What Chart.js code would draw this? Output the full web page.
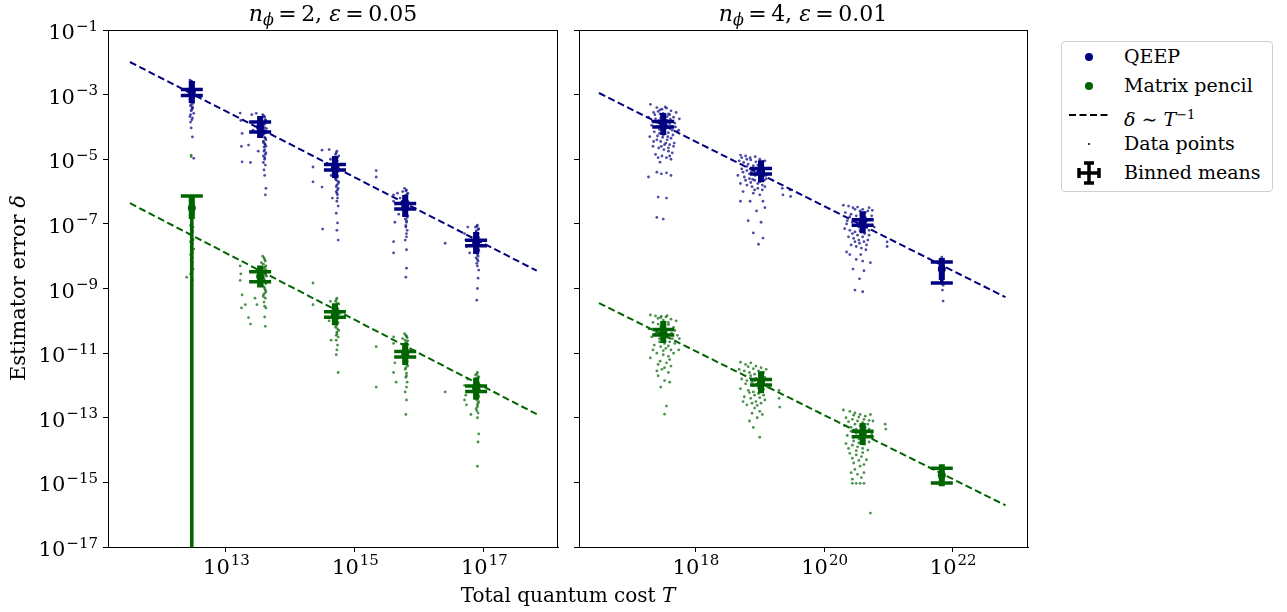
<!DOCTYPE html>
<html>
<head>
<meta charset="utf-8">
<script src="https://cdn.jsdelivr.net/npm/chart.js@4.4.1/dist/chart.umd.min.js"></script>
<style>
  body { margin: 0; background: #fff; width: 1287px; height: 612px; overflow: hidden; position: relative;
         font-family: 'DejaVu Serif', serif; color: #000; }
  .panel { position: absolute; top: 0; height: 612px; }
  .txt { position: absolute; white-space: nowrap; font-size: 22px; line-height: 30px; }
  #legend { position: absolute; left: 1061px; top: 41px; width: 210px; height: 149px;
            border: 1px solid #d0d0d0; border-radius: 4px; background: #fff; }
  .lrow { position: absolute; left: 0; height: 29px; width: 210px; font-size: 19px; line-height: 29px; }
  .lrow svg { position: absolute; left: 0; top: 0; }
  .lrow span.t { position: absolute; left: 62px; }
</style>
</head>
<body>
<div class="panel" style="left:0;width:570px"><canvas id="left"></canvas></div>
<div class="panel" style="left:570px;width:470px"><canvas id="right"></canvas></div>

<div class="txt" style="left:223px;top:-1px;width:220px;text-align:center"><i>n</i><sub style="font-size:16px;vertical-align:-4px"><i>ϕ</i></sub>&thinsp;=&thinsp;2, <i>ε</i>&thinsp;=&thinsp;0.05</div>
<div class="txt" style="left:693px;top:-1px;width:220px;text-align:center"><i>n</i><sub style="font-size:16px;vertical-align:-4px"><i>ϕ</i></sub>&thinsp;=&thinsp;4, <i>ε</i>&thinsp;=&thinsp;0.01</div>
<div class="txt" style="font-size:20px;left:418px;top:580px;width:300px;text-align:center">Total quantum cost <i>T</i></div>
<div class="txt" style="font-size:21px;left:-132px;top:273px;width:300px;text-align:center;transform:rotate(-90deg)">Estimator error <i>δ</i></div>

<div id="legend">
  <div class="lrow" style="top:0px"><svg width="60" height="29"><circle cx="27" cy="15" r="4" fill="#000080"/></svg><span class="t">QEEP</span></div>
  <div class="lrow" style="top:29px"><svg width="60" height="29"><circle cx="27" cy="15" r="4" fill="#006400"/></svg><span class="t">Matrix pencil</span></div>
  <div class="lrow" style="top:58px"><svg width="60" height="29"><line x1="7" y1="15" x2="47" y2="15" stroke="#000" stroke-width="2" stroke-dasharray="7,3.5"/></svg><span class="t"><i>δ</i> ∼ <i>T</i><sup style="font-size:13px">−1</sup></span></div>
  <div class="lrow" style="top:87px"><svg width="60" height="29"><circle cx="27" cy="15" r="1" fill="#000"/></svg><span class="t">Data points</span></div>
  <div class="lrow" style="top:116px"><svg width="60" height="29"><g stroke="#000" stroke-width="3.5"><line x1="27" y1="4" x2="27" y2="26"/><line x1="16" y1="15" x2="38" y2="15"/><line x1="22" y1="5" x2="32" y2="5"/><line x1="22" y1="25" x2="32" y2="25"/><line x1="17" y1="10" x2="17" y2="20"/><line x1="37" y1="10" x2="37" y2="20"/></g></svg><span class="t">Binned means</span></div>
</div>

<script>
// all values are log10: x = log10(T), y = log10(delta)
const yRange = [-17, -1];
const yTicks = [-17, -15, -13, -11, -9, -7, -5, -3, -1];
const yTickLabels = [['10','−17'], ['10','−15'], ['10','−13'], ['10','−11'], ['10','−9'],
                     ['10','−7'], ['10','−5'], ['10','−3'], ['10','−1']];

const leftXRange = [11.17, 18.15];
const leftXTicks = [13, 15, 17];
const leftXTickLabels = [['10','13'], ['10','15'], ['10','17']];
const rightXRange = [16.19, 23.17];
const rightXTicks = [18, 20, 22];
const rightXTickLabels = [['10','18'], ['10','20'], ['10','22']];

// fitted delta ~ 1/T lines (end points)
const leftFitX = [11.51, 17.82];
const leftQeepFit = [-1.99, -8.45];
const leftMpFit = [-6.36, -12.89];
const rightFitX = [16.50, 22.82];
const rightQeepFit = [-2.95, -9.27];
const rightMpFit = [-9.45, -15.71];

// binned means with error bars
const leftBinX = [12.47, 13.53, 14.69, 15.78, 16.88];
const leftBinXErr = [0.02, 0.02, 0.02, 0.02, 0.02];
const leftQeepMean = [-2.92, -4.0, -5.24, -6.45, -7.59];
const leftQeepHi = [-2.84, -3.85, -5.16, -6.37, -7.51];
const leftQeepLo = [-3.03, -4.16, -5.33, -6.54, -7.68];
const leftMpMean = [-6.51, -8.63, -9.8, -11.03, -12.1];
const leftMpHi = [-6.14, -8.48, -9.72, -10.95, -12.02];
const leftMpLo = [-30, -8.79, -9.89, -11.12, -12.19];

const rightBinX = [17.5, 19.02, 20.6, 21.83];
const rightBinXErr = [0.02, 0.02, 0.02, 0.02];
const rightQeepMean = [-3.91, -5.37, -6.95, -8.4];
const rightQeepHi = [-3.83, -5.29, -6.87, -8.18];
const rightQeepLo = [-4.0, -5.46, -7.04, -8.83];
const rightMpMean = [-10.35, -11.9, -13.5, -14.78];
const rightMpHi = [-10.27, -11.82, -13.42, -14.56];
const rightMpLo = [-10.44, -11.99, -13.59, -15.02];

// individual data points [log10 T, log10 delta]
const leftQeepPts = [
  [12.44,-2.55],[12.47,-2.6],[12.5,-2.62],[12.45,-2.68],[12.48,-2.7],[12.46,-2.75],[12.5,-2.8],[12.43,-2.82],
  [12.47,-2.86],[12.49,-2.9],[12.45,-2.95],[12.48,-3.0],[12.46,-3.05],[12.5,-3.1],[12.44,-3.15],[12.47,-3.2],
  [12.49,-3.27],[12.45,-3.35],[12.48,-3.42],[12.46,-3.5],[12.5,-3.58],[12.44,-3.68],[12.47,-3.78],[12.45,-3.85],
  [12.46,-4.03],[12.48,-4.31],[12.5,-4.97],
  [12.46,-2.58],[12.48,-2.66],[12.45,-2.72],[12.47,-2.78],[12.49,-2.84],[12.46,-2.92],[12.48,-2.98],[12.45,-3.08],
  [12.47,-3.12],[12.49,-3.22],[12.46,-3.3],[12.48,-3.38],[12.47,-3.46],[12.45,-3.62],[12.48,-3.72],
  [13.57,-3.62],[13.6,-3.7],[13.55,-3.75],[13.62,-3.8],[13.58,-3.86],[13.6,-3.92],[13.56,-3.98],[13.63,-4.05],
  [13.59,-4.1],[13.61,-4.18],[13.57,-4.25],[13.6,-4.32],[13.62,-4.4],[13.58,-4.48],[13.61,-4.55],[13.59,-4.62],
  [13.6,-4.7],[13.62,-4.8],[13.58,-4.9],[13.6,-5.0],[13.61,-5.18],[13.59,-5.33],[13.6,-5.5],[13.62,-5.9],
  [13.61,-6.1],[13.22,-3.57],[13.23,-3.8],[13.25,-4.2],[13.24,-4.6],[13.25,-5.08],[13.35,-4.56],[13.4,-3.62],
  [13.42,-4.1],[13.38,-5.1],[13.47,-3.58],[13.5,-4.75],
  [13.59,-3.66],[13.61,-3.78],[13.58,-3.9],[13.6,-4.02],[13.62,-4.14],[13.59,-4.22],[13.61,-4.35],[13.58,-4.44],
  [13.6,-4.52],[13.62,-4.6],[13.59,-4.75],[13.61,-4.85],[13.6,-4.95],[13.58,-5.1],
  [14.72,-4.75],[14.7,-4.85],[14.75,-4.9],[14.68,-5.0],[14.73,-5.05],[14.7,-5.12],[14.76,-5.18],[14.69,-5.3],
  [14.74,-5.38],[14.71,-5.45],[14.73,-5.55],[14.7,-5.62],[14.75,-5.7],[14.72,-5.8],[14.74,-5.9],[14.71,-6.0],
  [14.73,-6.1],[14.72,-6.3],[14.74,-6.45],[14.71,-6.67],[14.73,-6.97],[14.72,-7.2],[14.74,-7.5],[14.35,-5.24],
  [14.35,-5.7],[14.49,-4.72],[14.49,-5.86],[14.5,-7.16],[14.6,-4.7],[14.62,-5.0],[14.63,-5.5],[14.65,-6.2],
  [15.33,-5.55],[15.33,-5.35],
  [14.71,-4.8],[14.73,-4.95],[14.7,-5.08],[14.72,-5.2],[14.74,-5.25],[14.71,-5.35],[14.73,-5.5],[14.7,-5.58],
  [14.72,-5.66],[14.74,-5.75],[14.71,-5.85],[14.73,-5.95],[14.72,-6.05],[14.73,-6.2],
  [15.77,-5.9],[15.8,-5.95],[15.74,-6.0],[15.82,-6.05],[15.78,-6.12],[15.8,-6.2],[15.76,-6.28],[15.83,-6.35],
  [15.79,-6.42],[15.81,-6.5],[15.77,-6.58],[15.8,-6.65],[15.82,-6.75],[15.78,-6.85],[15.8,-6.95],[15.79,-7.05],
  [15.81,-7.2],[15.8,-7.4],[15.78,-7.5],[15.8,-7.8],[15.8,-8.37],[15.79,-8.65],[15.6,-6.1],[15.6,-6.3],
  [15.62,-6.95],[15.6,-7.55],[15.6,-7.9],[15.68,-6.7],[15.66,-6.05],[16.4,-7.6],[15.7,-6.2],
  [15.79,-5.98],[15.81,-6.08],[15.78,-6.16],[15.8,-6.24],[15.82,-6.3],[15.79,-6.38],[15.81,-6.46],[15.78,-6.54],
  [15.8,-6.6],[15.79,-6.7],[15.81,-6.8],[15.8,-6.9],[15.79,-7.1],[15.8,-7.3],
  [16.9,-7.04],[16.87,-7.1],[16.92,-7.15],[16.88,-7.22],[16.91,-7.3],[16.86,-7.38],[16.9,-7.45],[16.93,-7.52],
  [16.88,-7.6],[16.91,-7.68],[16.89,-7.75],[16.92,-7.85],[16.9,-7.95],[16.88,-8.05],[16.91,-8.15],[16.9,-8.3],
  [16.92,-8.43],[16.91,-8.68],[16.9,-9.0],[16.89,-9.36],[16.7,-7.3],[16.72,-7.5],[16.73,-7.7],[16.75,-7.1],
  [16.78,-7.9],
  [16.89,-7.08],[16.91,-7.18],[16.88,-7.26],[16.9,-7.34],[16.92,-7.42],[16.89,-7.48],[16.91,-7.56],[16.88,-7.64],
  [16.9,-7.72],[16.92,-7.8],[16.89,-7.9],[16.91,-8.0],[16.9,-8.1],[16.89,-8.22]
];
const leftMpPts = [
  [12.46,-4.87],[12.46,-4.92],[12.47,-6.98],[12.45,-7.05],[12.49,-7.1],[12.46,-7.18],[12.48,-7.25],[12.44,-7.32],
  [12.47,-7.4],[12.49,-7.48],[12.45,-7.55],[12.48,-7.62],[12.46,-7.7],[12.5,-7.78],[12.47,-7.85],[12.45,-7.95],
  [12.48,-8.05],[12.46,-8.15],[12.47,-8.25],[12.49,-8.4],[12.45,-8.55],[12.39,-8.65],[12.48,-8.74],[12.47,-8.9],
  [12.47,-7.02],[12.46,-7.14],[12.48,-7.22],[12.47,-7.3],[12.46,-7.44],[12.48,-7.52],[12.47,-7.66],[12.46,-7.74],
  [12.48,-7.9],[12.47,-8.0],[12.46,-8.1],[12.48,-8.2],[12.47,-8.33],
  [13.57,-8.0],[13.6,-8.1],[13.55,-8.2],[13.62,-8.3],[13.58,-8.38],[13.6,-8.45],[13.56,-8.55],[13.63,-8.62],
  [13.59,-8.7],[13.61,-8.8],[13.57,-8.9],[13.6,-9.0],[13.62,-9.1],[13.58,-9.2],[13.61,-9.3],[13.59,-9.42],
  [13.6,-9.55],[13.62,-9.6],[13.6,-9.88],[13.61,-10.17],[13.22,-8.3],[13.23,-8.55],[13.22,-8.75],[13.25,-9.2],
  [13.24,-9.6],[13.3,-9.5],[13.35,-9.9],[13.38,-10.1],[13.45,-9.3],[13.48,-9.5],
  [13.59,-8.05],[13.61,-8.15],[13.58,-8.25],[13.6,-8.34],[13.62,-8.42],[13.59,-8.5],[13.61,-8.58],[13.58,-8.66],
  [13.6,-8.75],[13.62,-8.85],[13.59,-8.95],[13.61,-9.05],[13.6,-9.15],[13.58,-9.25],
  [14.72,-9.3],[14.7,-9.4],[14.75,-9.48],[14.68,-9.55],[14.73,-9.62],[14.7,-9.7],[14.76,-9.78],[14.69,-9.85],
  [14.74,-9.92],[14.71,-10.0],[14.73,-10.1],[14.7,-10.2],[14.75,-10.3],[14.72,-10.4],[14.74,-10.5],[14.71,-10.6],
  [14.73,-10.75],[14.72,-10.9],[14.71,-11.05],[14.74,-11.6],[14.62,-9.4],[14.6,-10.0],[14.63,-10.6],[14.65,-9.7],
  [14.35,-8.83],[14.35,-9.5],[15.33,-10.8],[15.33,-12.05],
  [14.71,-9.35],[14.73,-9.45],[14.7,-9.52],[14.72,-9.6],[14.74,-9.66],[14.71,-9.75],[14.73,-9.82],[14.7,-9.9],
  [14.72,-9.96],[14.74,-10.05],[14.71,-10.15],[14.73,-10.25],[14.72,-10.35],[14.71,-10.45],
  [15.77,-10.4],[15.8,-10.48],[15.74,-10.55],[15.82,-10.62],[15.78,-10.7],[15.8,-10.78],[15.76,-10.85],[15.83,-10.92],
  [15.79,-11.0],[15.81,-11.1],[15.77,-11.2],[15.8,-11.3],[15.82,-11.4],[15.78,-11.5],[15.8,-11.62],[15.79,-11.75],
  [15.81,-11.9],[15.8,-12.05],[15.78,-12.2],[15.8,-12.45],[15.79,-12.9],[15.6,-10.5],[15.6,-10.7],[15.62,-11.3],
  [15.6,-11.6],[15.64,-11.9],[16.4,-12.2],
  [15.79,-10.45],[15.81,-10.52],[15.78,-10.6],[15.8,-10.66],[15.82,-10.74],[15.79,-10.82],[15.81,-10.9],[15.78,-10.96],
  [15.8,-11.05],[15.79,-11.15],[15.81,-11.25],[15.8,-11.35],[15.79,-11.45],[15.8,-11.7],
  [16.9,-11.6],[16.87,-11.68],[16.92,-11.75],[16.88,-11.82],[16.91,-11.9],[16.86,-11.98],[16.9,-12.05],[16.93,-12.12],
  [16.88,-12.2],[16.91,-12.3],[16.89,-12.4],[16.92,-12.5],[16.9,-12.6],[16.88,-12.72],[16.91,-12.85],[16.9,-13.0],
  [16.92,-13.5],[16.91,-13.75],[16.9,-14.5],[16.7,-12.0],[16.72,-12.3],[16.73,-12.6],[16.75,-11.8],[16.8,-12.9],
  [16.7,-12.45],
  [16.89,-11.64],[16.91,-11.72],[16.88,-11.78],[16.9,-11.86],[16.92,-11.94],[16.89,-12.0],[16.91,-12.08],[16.88,-12.16],
  [16.9,-12.25],[16.92,-12.35],[16.89,-12.45],[16.91,-12.55],[16.9,-12.66],[16.89,-12.78]
];
const rightQeepPts = [
  [17.3,-3.3],[17.4,-3.4],[17.48,-3.45],[17.55,-3.42],[17.62,-3.5],[17.7,-3.55],[17.35,-3.55],[17.45,-3.6],
  [17.52,-3.65],[17.58,-3.6],[17.66,-3.7],[17.27,-3.7],[17.38,-3.75],[17.43,-3.8],[17.5,-3.85],[17.56,-3.8],
  [17.6,-3.9],[17.68,-3.88],[17.32,-3.95],[17.41,-3.98],[17.47,-4.0],[17.53,-4.05],[17.59,-4.02],[17.64,-4.1],
  [17.72,-4.15],[17.36,-4.15],[17.44,-4.2],[17.5,-4.25],[17.57,-4.3],[17.62,-4.35],[17.29,-4.3],[17.4,-4.4],
  [17.46,-4.45],[17.54,-4.5],[17.6,-4.55],[17.67,-4.5],[17.34,-4.6],[17.43,-4.65],[17.51,-4.7],[17.58,-4.75],
  [17.64,-4.8],[17.38,-4.85],[17.48,-4.9],[17.55,-4.95],[17.62,-5.0],[17.45,-5.09],[17.4,-5.4],[17.47,-5.45],
  [17.55,-5.42],[17.62,-5.5],[17.42,-6.17],[17.55,-6.2],[17.4,-6.8],[17.5,-6.85],[17.27,-5.55],[17.75,-3.75],
  [17.74,-4.1],
  [17.42,-3.52],[17.5,-3.58],[17.56,-3.68],[17.46,-3.72],[17.53,-3.78],[17.61,-3.76],[17.39,-3.85],[17.48,-3.92],
  [17.55,-3.95],[17.63,-3.98],[17.44,-4.08],[17.51,-4.12],[17.58,-4.18],[17.49,-4.32],[17.56,-4.4],[17.41,-4.28],
  [17.65,-4.25],[17.37,-3.62],[17.6,-3.62],[17.52,-4.55],[17.47,-4.6],[17.58,-4.65],[17.35,-4.45],[17.69,-4.0],
  [17.33,-3.82],[17.45,-3.47],[17.53,-3.38],[17.66,-4.6],[17.42,-4.95],[17.6,-4.9],
  [18.7,-4.87],[18.78,-4.9],[18.85,-4.95],[18.93,-4.92],[19.0,-5.0],[19.08,-5.05],[18.68,-5.05],[18.75,-5.1],
  [18.82,-5.15],[18.9,-5.2],[18.97,-5.18],[19.05,-5.25],[19.12,-5.3],[18.72,-5.3],[18.8,-5.35],[18.87,-5.4],
  [18.95,-5.45],[19.02,-5.4],[19.1,-5.5],[18.66,-5.5],[18.76,-5.55],[18.84,-5.6],[18.92,-5.65],[19.0,-5.7],
  [19.07,-5.65],[18.7,-5.75],[18.8,-5.8],[18.88,-5.85],[18.97,-5.9],[19.04,-5.95],[18.74,-6.0],[18.9,-6.05],
  [19.0,-6.1],[18.85,-6.3],[19.05,-6.3],[18.95,-6.6],[19.08,-6.5],[18.7,-6.3],[18.82,-6.9],[19.02,-6.95],
  [18.9,-7.28],[19.05,-7.44],[18.98,-7.63],[19.35,-5.9],[19.36,-6.1],[19.47,-5.95],[19.48,-6.15],
  [18.86,-5.02],[18.94,-5.08],[19.02,-5.12],[18.8,-5.22],[18.9,-5.28],[18.98,-5.32],[19.06,-5.38],[18.84,-5.45],
  [18.93,-5.5],[19.0,-5.55],[18.89,-5.62],[18.97,-5.75],[19.04,-5.8],[18.78,-5.65],[19.1,-5.6],[18.74,-5.4],
  [18.96,-5.38],[18.86,-5.72],[18.92,-5.95],[19.08,-5.85],[18.72,-4.95],[18.8,-5.0],
  [20.3,-6.42],[20.38,-6.45],[20.45,-6.5],[20.52,-6.48],[20.6,-6.55],[20.68,-6.6],[20.75,-6.58],[20.33,-6.65],
  [20.42,-6.7],[20.5,-6.75],[20.57,-6.72],[20.64,-6.8],[20.72,-6.85],[20.36,-6.9],[20.44,-6.95],[20.52,-7.0],
  [20.6,-6.98],[20.67,-7.05],[20.78,-7.1],[20.32,-7.15],[20.4,-7.2],[20.48,-7.25],[20.56,-7.22],[20.63,-7.3],
  [20.7,-7.35],[20.38,-7.4],[20.46,-7.45],[20.54,-7.5],[20.62,-7.55],[20.68,-7.5],[20.42,-7.65],[20.5,-7.7],
  [20.58,-7.75],[20.65,-7.8],[20.35,-7.87],[20.5,-8.1],[20.6,-8.15],[20.45,-8.4],[20.62,-8.45],[20.55,-8.7],
  [20.48,-9.05],[20.6,-9.1],[20.98,-7.56],[20.98,-7.7],[20.72,-8.2],
  [20.48,-6.55],[20.56,-6.6],[20.64,-6.65],[20.4,-6.78],[20.5,-6.85],[20.58,-6.9],[20.66,-6.92],[20.46,-7.05],
  [20.54,-7.1],[20.62,-7.15],[20.7,-7.2],[20.44,-7.3],[20.52,-7.35],[20.6,-7.4],[20.35,-7.0],[20.74,-6.75],
  [20.55,-7.6],[20.48,-7.55],[20.66,-7.65],[20.4,-7.95],[20.57,-7.95],[20.7,-6.5],
  [21.83,-8.03],[21.82,-8.15],[21.84,-8.25],[21.83,-8.35],[21.82,-8.45],[21.84,-8.55],[21.83,-8.7],[21.85,-8.9],
  [21.84,-9.05],[21.85,-9.39]
];
const rightMpPts = [
  [17.3,-9.82],[17.38,-9.85],[17.46,-9.9],[17.54,-9.88],[17.62,-9.95],[17.7,-10.0],[17.34,-10.05],[17.42,-10.1],
  [17.5,-10.15],[17.58,-10.12],[17.66,-10.2],[17.28,-10.25],[17.4,-10.3],[17.47,-10.35],[17.55,-10.4],[17.63,-10.38],
  [17.72,-10.45],[17.32,-10.5],[17.44,-10.55],[17.52,-10.6],[17.6,-10.65],[17.68,-10.7],[17.36,-10.75],[17.46,-10.8],
  [17.54,-10.85],[17.62,-10.9],[17.4,-11.0],[17.5,-11.05],[17.58,-11.1],[17.66,-11.0],[17.3,-11.15],[17.45,-11.25],
  [17.55,-11.3],[17.62,-11.4],[17.48,-11.5],[17.58,-11.6],[17.42,-11.7],[17.52,-11.85],[17.6,-11.9],[17.46,-12.05],
  [17.55,-12.64],[17.52,-12.89],[17.75,-10.55],[17.74,-10.9],
  [17.42,-9.92],[17.5,-9.98],[17.58,-10.05],[17.46,-10.18],[17.54,-10.25],[17.62,-10.28],[17.38,-10.4],[17.48,-10.45],
  [17.56,-10.5],[17.64,-10.55],[17.44,-10.65],[17.52,-10.7],[17.58,-10.78],[17.5,-10.92],[17.6,-11.2],[17.42,-11.35],
  [17.52,-11.45],[17.34,-10.9],[17.68,-10.3],[17.47,-9.86],[17.56,-9.84],[17.4,-11.55],
  [18.7,-11.28],[18.78,-11.35],[18.86,-11.3],[18.94,-11.4],[19.02,-11.45],[19.1,-11.5],[18.68,-11.5],[18.76,-11.55],
  [18.84,-11.6],[18.92,-11.65],[19.0,-11.7],[19.08,-11.75],[18.72,-11.8],[18.8,-11.85],[18.88,-11.9],[18.96,-11.95],
  [19.04,-12.0],[19.12,-12.05],[18.7,-12.1],[18.82,-12.15],[18.9,-12.2],[18.98,-12.25],[19.06,-12.3],[18.76,-12.35],
  [18.86,-12.4],[18.94,-12.5],[19.02,-12.55],[18.8,-12.6],[18.92,-12.7],[19.0,-12.8],[18.88,-12.86],[18.96,-13.0],
  [18.9,-13.3],[19.0,-13.6],[19.3,-12.15],[19.3,-12.4],[19.31,-12.67],
  [18.82,-11.42],[18.9,-11.48],[18.98,-11.55],[19.06,-11.6],[18.86,-11.7],[18.94,-11.78],[19.02,-11.85],[18.78,-11.95],
  [18.9,-12.0],[18.98,-12.08],[19.06,-12.12],[18.84,-12.22],[18.92,-12.3],[19.0,-12.38],[18.74,-12.5],[19.08,-12.45],
  [18.88,-12.55],[18.96,-12.62],[19.04,-12.9],[18.84,-13.1],
  [20.3,-12.76],[20.4,-12.8],[20.48,-12.85],[20.56,-12.9],[20.64,-12.95],[20.72,-12.9],[20.34,-13.0],[20.44,-13.05],
  [20.52,-13.1],[20.6,-13.15],[20.68,-13.2],[20.76,-13.1],[20.32,-13.25],[20.42,-13.3],[20.5,-13.35],[20.58,-13.4],
  [20.66,-13.45],[20.74,-13.5],[20.36,-13.55],[20.46,-13.6],[20.54,-13.65],[20.62,-13.7],[20.7,-13.75],[20.34,-13.8],
  [20.44,-13.85],[20.52,-13.9],[20.6,-13.95],[20.68,-14.0],[20.4,-14.1],[20.5,-14.15],[20.58,-14.2],[20.66,-14.3],
  [20.46,-14.4],[20.56,-14.5],[20.42,-14.7],[20.52,-14.75],[20.62,-14.7],[20.44,-15.03],[20.5,-15.03],[20.56,-15.03],
  [20.62,-15.03],[20.72,-15.95],[20.95,-13.2],[20.96,-13.35],
  [20.46,-12.92],[20.54,-12.98],[20.62,-13.05],[20.7,-13.08],[20.38,-13.12],[20.48,-13.2],[20.56,-13.25],[20.64,-13.3],
  [20.42,-13.42],[20.5,-13.48],[20.58,-13.52],[20.66,-13.58],[20.46,-13.72],[20.54,-13.78],[20.62,-13.82],[20.38,-13.95],
  [20.5,-14.02],[20.6,-14.08],[20.7,-13.35],[20.44,-14.25],[20.54,-14.32],[20.62,-14.45],[20.48,-14.6],[20.58,-14.85],
  [20.44,-14.9],
  [21.83,-14.6],[21.84,-14.75],[21.83,-14.9],[21.82,-15.05]
];

const NAVY = '#000080';
const GREEN = '#006400';
const FAMILY = "'DejaVu Serif', serif";

const toXY = pts => pts.map(p => ({ x: Math.pow(10, p[0]), y: Math.pow(10, p[1]) }));
const pair = (xs, ys) => xs.map((x, i) => ({ x: Math.pow(10, x), y: Math.pow(10, ys[i]) }));

function errorBarPlugin(bins) {
  return {
    id: 'errbars',
    afterDatasetsDraw(chart) {
      const { ctx, chartArea: a, scales } = chart;
      const sx = scales.x, sy = scales.y;
      const cap = 11;
      ctx.save();
      ctx.beginPath();
      ctx.rect(a.left, a.top, a.right - a.left, a.bottom - a.top);
      ctx.clip();
      ctx.lineWidth = 3.5;
      bins.forEach(b => {
        ctx.strokeStyle = b.color;
        b.x.forEach((bx, i) => {
          const px = sx.getPixelForValue(Math.pow(10, bx));
          const py = sy.getPixelForValue(Math.pow(10, b.mean[i]));
          const yl = sy.getPixelForValue(Math.pow(10, b.lo[i]));
          const yh = sy.getPixelForValue(Math.pow(10, b.hi[i]));
          const xl = sx.getPixelForValue(Math.pow(10, bx - b.xe[i]));
          const xh = sx.getPixelForValue(Math.pow(10, bx + b.xe[i]));
          ctx.beginPath();
          ctx.moveTo(px, Math.min(yl, a.bottom + 20)); ctx.lineTo(px, yh);
          ctx.moveTo(px - cap, yh); ctx.lineTo(px + cap, yh);
          if (yl < a.bottom) { ctx.moveTo(px - cap, yl); ctx.lineTo(px + cap, yl); }
          ctx.moveTo(xl, py); ctx.lineTo(xh, py);
          ctx.moveTo(xl, py - cap); ctx.lineTo(xl, py + cap);
          ctx.moveTo(xh, py - cap); ctx.lineTo(xh, py + cap);
          ctx.stroke();
        });
      });
      ctx.restore();
    }
  };
}

// frame + power-of-ten tick labels (base with raised exponent)
function framePlugin(cfg) {
  return {
    id: 'frame',
    afterDraw(chart) {
      const { ctx, chartArea: a, scales } = chart;
      ctx.save();
      ctx.strokeStyle = '#000';
      ctx.lineWidth = 1;
      ctx.strokeRect(a.left + 0.5, a.top + 0.5, a.right - a.left - 1, a.bottom - a.top);
      ctx.fillStyle = '#000';
      ctx.textBaseline = 'alphabetic';
      ctx.textAlign = 'left';
      const big = '21px ' + FAMILY, small = '15px ' + FAMILY;
      cfg.xTicks.forEach((v, i) => {
        const [b, e] = cfg.xLabels[i];
        ctx.font = big; const w1 = ctx.measureText(b).width;
        ctx.font = small; const w2 = ctx.measureText(e).width;
        const px = scales.x.getPixelForValue(Math.pow(10, v));
        const x0 = px - (w1 + w2) / 2;
        ctx.font = big; ctx.fillText(b, x0, a.bottom + 27);
        ctx.font = small; ctx.fillText(e, x0 + w1 + 1, a.bottom + 18);
      });
      if (cfg.showY) {
        yTicks.forEach((v, i) => {
          const [b, e] = yTickLabels[i];
          ctx.font = big; const w1 = ctx.measureText(b).width;
          ctx.font = small; const w2 = ctx.measureText(e).width;
          const py = scales.y.getPixelForValue(Math.pow(10, v));
          const xEnd = a.left - 10;
          ctx.font = big; ctx.fillText(b, xEnd - w2 - w1 - 1, py + 9);
          ctx.font = small; ctx.fillText(e, xEnd - w2, py + 0.5);
        });
      }
      ctx.restore();
    }
  };
}

function makePanel(id, cfg) {
  const bins = [
    { color: NAVY, x: cfg.binX, xe: cfg.binXErr, mean: cfg.qMean, lo: cfg.qLo, hi: cfg.qHi },
    { color: GREEN, x: cfg.binX, xe: cfg.binXErr, mean: cfg.mMean, lo: cfg.mLo, hi: cfg.mHi }
  ];
  return new Chart(document.getElementById(id), {
    type: 'scatter',
    data: {
      datasets: [
        { data: pair(cfg.binX, cfg.qMean), backgroundColor: NAVY, borderWidth: 0, pointRadius: 4 },
        { data: pair(cfg.binX, cfg.mMean), backgroundColor: GREEN, borderWidth: 0, pointRadius: 4 },
        { data: pair(cfg.fitX, cfg.qFit), showLine: true, borderColor: NAVY, borderWidth: 2,
          borderDash: [7, 3.5], pointRadius: 0 },
        { data: pair(cfg.fitX, cfg.mFit), showLine: true, borderColor: GREEN, borderWidth: 2,
          borderDash: [7, 3.5], pointRadius: 0 },
        { data: toXY(cfg.qPts), backgroundColor: 'rgba(0,0,128,0.7)', borderWidth: 0, pointRadius: 1.4 },
        { data: toXY(cfg.mPts), backgroundColor: 'rgba(0,100,0,0.7)', borderWidth: 0, pointRadius: 1.4 }
      ]
    },
    options: {
      responsive: true,
      maintainAspectRatio: false,
      animation: false,
      layout: { padding: { top: 30, right: 12, left: 0, bottom: 0 } },
      plugins: { legend: { display: false }, tooltip: { enabled: false } },
      scales: {
        x: {
          type: 'logarithmic',
          min: Math.pow(10, cfg.xRange[0]),
          max: Math.pow(10, cfg.xRange[1]),
          afterBuildTicks: s => { s.ticks = cfg.xTicks.map(v => ({ value: Math.pow(10, v) })); },
          afterFit: s => { s.height = 65; },
          ticks: { callback: () => '', autoSkip: false, maxRotation: 0 },
          grid: { drawOnChartArea: false, tickLength: 5, color: '#000' },
          border: { color: '#000' }
        },
        y: {
          type: 'logarithmic',
          min: Math.pow(10, yRange[0]),
          max: Math.pow(10, yRange[1]),
          afterBuildTicks: s => { s.ticks = yTicks.map(v => ({ value: Math.pow(10, v) })); },
          afterFit: s => { s.width = cfg.yWidth; },
          ticks: { callback: () => '', autoSkip: false },
          grid: { drawOnChartArea: false, tickLength: 5, color: '#000' },
          border: { color: '#000' }
        }
      }
    },
    plugins: [errorBarPlugin(bins), framePlugin(cfg)]
  });
}

makePanel('left', {
  xRange: leftXRange, xTicks: leftXTicks, xLabels: leftXTickLabels, yWidth: 108, showY: true,
  fitX: leftFitX, qFit: leftQeepFit, mFit: leftMpFit,
  binX: leftBinX, binXErr: leftBinXErr,
  qMean: leftQeepMean, qLo: leftQeepLo, qHi: leftQeepHi,
  mMean: leftMpMean, mLo: leftMpLo, mHi: leftMpHi,
  qPts: leftQeepPts, mPts: leftMpPts
});
makePanel('right', {
  xRange: rightXRange, xTicks: rightXTicks, xLabels: rightXTickLabels, yWidth: 9, showY: false,
  fitX: rightFitX, qFit: rightQeepFit, mFit: rightMpFit,
  binX: rightBinX, binXErr: rightBinXErr,
  qMean: rightQeepMean, qLo: rightQeepLo, qHi: rightQeepHi,
  mMean: rightMpMean, mLo: rightMpLo, mHi: rightMpHi,
  qPts: rightQeepPts, mPts: rightMpPts
});
</script>
</body>
</html>
